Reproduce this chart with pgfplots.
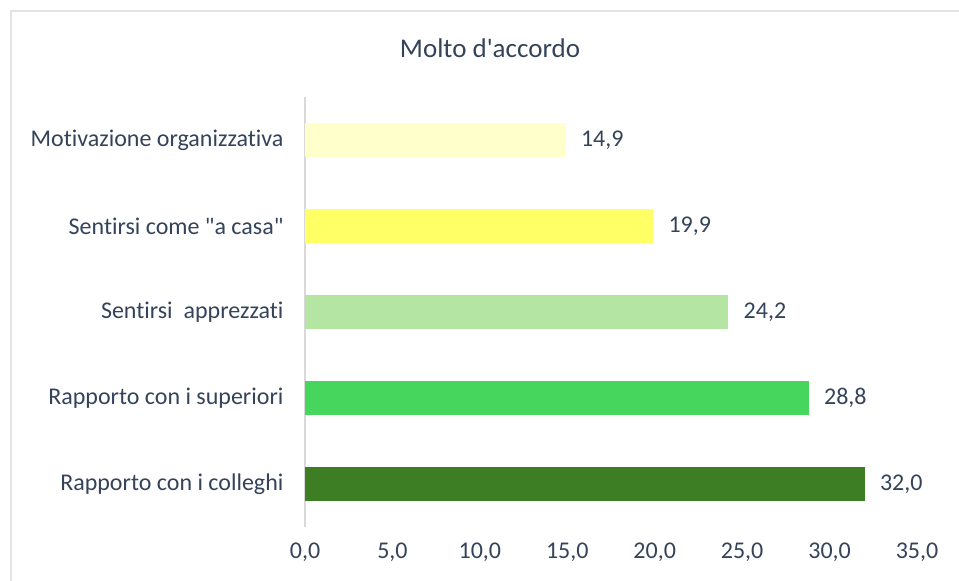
\documentclass[border=0pt]{standalone}
\usepackage{fontspec}
\setmainfont{Carlito}[Ligatures={TeX,NoCommon}]
\usepackage{pgfplots}
\pgfplotsset{compat=1.18}

\definecolor{txt}{HTML}{34435A}
\definecolor{frame}{HTML}{E3E3E3}
\definecolor{axisc}{HTML}{D9D9D9}
\definecolor{c1}{HTML}{3D7D24}
\definecolor{c2}{HTML}{47D65D}
\definecolor{c3}{HTML}{B5E5A3}
\definecolor{c4}{HTML}{FFFF66}
\definecolor{c5}{HTML}{FFFFCC}

\begin{document}
\begin{tikzpicture}
\useasboundingbox (0pt,0pt) rectangle (959pt,581pt);
% outer chart frame (only top and left edges are visible)
\draw[frame, line width=2pt] (11pt,0pt) -- (11pt,570pt) -- (959pt,570pt);
\node[txt, font=\fontsize{27}{32}\selectfont] at (490pt,533pt) {Molto d\textquotesingle accordo};
\begin{axis}[
    at={(305pt,54pt)}, anchor=south west,
    scale only axis,
    width=612pt, height=430pt,
    xbar, bar shift=0pt, bar width=34pt,
    xmin=0, xmax=35,
    ymin=-0.5, ymax=4.5,
    axis x line*=bottom,
    x axis line style={draw=none},
    axis y line*=left,
    y axis line style={draw=axisc, line width=2pt},
    xtick={0,5,...,35},
    ytick={0,1,2,3,4},
    yticklabels={Rapporto con i colleghi, Rapporto con i superiori, Sentirsi\ \ apprezzati, Sentirsi come \textquotedbl a casa\textquotedbl, Motivazione organizzativa},
    major tick length=0pt,
    tick style={draw=none},
    xticklabel style={yshift=-12pt},
    yticklabel style={xshift=-18pt},
    ticklabel style={txt, font=\fontsize{24}{28}\selectfont},
    /pgf/number format/.cd, fixed, fixed zerofill, precision=1, use comma, assume math mode=true,
    /pgfplots/.cd,
    nodes near coords={\pgfmathprintnumber[fixed,fixed zerofill,precision=1,use comma,assume math mode=true]{\pgfplotspointmeta}},
    nodes near coords style={txt, font=\fontsize{24}{28}\selectfont, anchor=west, xshift=12pt},
    clip=false,
]
\addplot[fill=c1, draw=none] coordinates {(32.0,0)};
\addplot[fill=c2, draw=none] coordinates {(28.8,1)};
\addplot[fill=c3, draw=none] coordinates {(24.2,2)};
\addplot[fill=c4, draw=none] coordinates {(19.9,3)};
\addplot[fill=c5, draw=none] coordinates {(14.9,4)};
\end{axis}
\end{tikzpicture}
\end{document}
